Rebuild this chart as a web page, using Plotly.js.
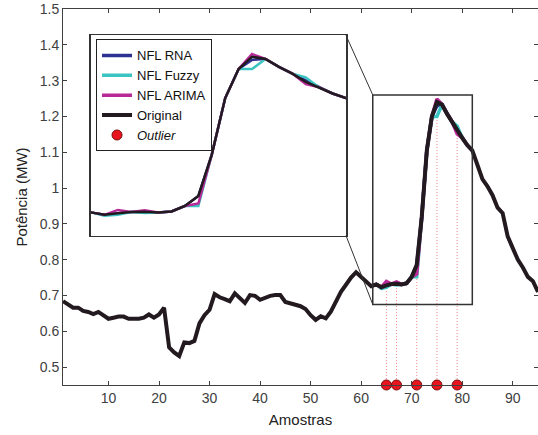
<!DOCTYPE html>
<html>
<head>
<meta charset="utf-8">
<script src="https://cdn.plot.ly/plotly-3.0.1.min.js"></script>
<style>html,body{margin:0;padding:0;background:#fff;}#chart{width:538px;height:435px;}</style>
</head>
<body>
<div id="chart"></div>
<script>
// ---- data ----
const samples = Array.from({length: 95}, (_, k) => k + 1);
const original = [
  0.684, 0.675, 0.666, 0.666, 0.657, 0.654, 0.648, 0.654, 0.645, 0.635,
  0.638, 0.641, 0.641, 0.635, 0.635, 0.635, 0.638, 0.647, 0.638, 0.647,
  0.666, 0.555, 0.541, 0.531, 0.569, 0.567, 0.573, 0.622, 0.645, 0.660,
  0.704, 0.695, 0.690, 0.684, 0.706, 0.692, 0.679, 0.701, 0.699, 0.688,
  0.695, 0.699, 0.701, 0.701, 0.682, 0.679, 0.674, 0.670, 0.662, 0.645,
  0.632, 0.642, 0.636, 0.655, 0.685, 0.710, 0.730, 0.750, 0.765, 0.752,
  0.738, 0.726, 0.731, 0.723, 0.728, 0.732, 0.733, 0.731, 0.734, 0.752,
  0.785, 0.920, 1.105, 1.200, 1.240, 1.233, 1.207, 1.185, 1.158, 1.140,
  1.120, 1.105, 1.065, 1.025, 1.005, 0.980, 0.945, 0.930, 0.865, 0.835,
  0.800, 0.778, 0.752, 0.740, 0.710
];
// model outputs over the zoomed window (samples 62..82)
const zoomSamples = [62,63,64,65,66,67,68,69,70,71,72,73,74,75,76,77,78,79,80,81,82];
const nflRNA   = [0.726,0.731,0.723,0.728,0.732,0.733,0.731,0.734,0.752,0.785,0.920,1.105,1.200,1.230,1.233,1.207,1.185,1.164,1.140,1.120,1.105];
const nflFuzzy = [0.726,0.731,0.720,0.723,0.732,0.729,0.731,0.734,0.752,0.752,0.920,1.105,1.200,1.200,1.233,1.207,1.185,1.173,1.140,1.120,1.105];
const nflARIMA = [0.726,0.731,0.723,0.739,0.732,0.738,0.731,0.734,0.752,0.760,0.920,1.105,1.200,1.249,1.233,1.207,1.185,1.151,1.140,1.120,1.105];
const outlierX   = [65, 67, 71, 75, 79];
const outlierTop = [0.722, 0.728, 0.770, 1.190, 1.155];
const outlierBase = 0.45;

// ---- styles ----
const C_RNA = '#2e3192', C_FUZ = '#3cc4c2', C_ARI = '#b82a98', C_ORG = '#231a20';
const AX = '#404040';
const FONT = 'Liberation Sans, Arial, Helvetica, sans-serif';
const xMain = [1, 95], yMain = [0.45, 1.5];
const xIn = [63, 82], yIn = [0.655, 1.31];
const zoomBox = {x0: 62.3, x1: 82, y0: 0.675, y1: 1.26};
const inDomX = [0.0589, 0.5958], inDomY = [0.3973, 0.9297];

// dotted guide segments built from outlier arrays
const gx = [], gy = [];
outlierX.forEach((x, k) => { gx.push(x, x, null); gy.push(outlierBase, outlierTop[k], null); });

const traces = [
  {x: gx, y: gy, mode: 'lines', line: {color: 'rgba(240,90,90,0.7)', width: 1, dash: '1px,2px'}, showlegend: false, hoverinfo: 'skip'},
  {x: zoomSamples, y: nflRNA, name: 'NFL RNA', mode: 'lines', line: {color: C_RNA, width: 3.5}},
  {x: zoomSamples, y: nflFuzzy, name: 'NFL Fuzzy', mode: 'lines', line: {color: C_FUZ, width: 3.5}},
  {x: zoomSamples, y: nflARIMA, name: 'NFL ARIMA', mode: 'lines', line: {color: C_ARI, width: 3.5}},
  {x: samples, y: original, name: 'Original', mode: 'lines', line: {color: C_ORG, width: 4}},
  {x: outlierX, y: outlierX.map(() => outlierBase), name: '<i>Outlier</i>', mode: 'markers',
   marker: {color: '#e8141e', size: 10, line: {color: '#7a0a0a', width: 1}}, cliponaxis: false},
  // inset
  {x: zoomSamples, y: nflRNA, xaxis: 'x2', yaxis: 'y2', mode: 'lines', line: {color: C_RNA, width: 2.5}, showlegend: false},
  {x: zoomSamples, y: nflFuzzy, xaxis: 'x2', yaxis: 'y2', mode: 'lines', line: {color: C_FUZ, width: 2.5}, showlegend: false},
  {x: zoomSamples, y: nflARIMA, xaxis: 'x2', yaxis: 'y2', mode: 'lines', line: {color: C_ARI, width: 2.5}, showlegend: false},
  {x: samples, y: original, xaxis: 'x2', yaxis: 'y2', mode: 'lines', line: {color: C_ORG, width: 2.5}, showlegend: false}
];

// data -> paper helpers for connector lines
const px = v => (v - xMain[0]) / (xMain[1] - xMain[0]);
const py = v => (v - yMain[0]) / (yMain[1] - yMain[0]);

const layout = {
  width: 538, height: 435,
  margin: {l: 63, r: 0, t: 9, b: 50, pad: 0},
  paper_bgcolor: '#fff', plot_bgcolor: '#fff',
  font: {family: FONT, color: AX, size: 14},
  showlegend: true,
  legend: {x: 0.0695, y: 0.919, xanchor: 'left', yanchor: 'top', bgcolor: '#fff',
           bordercolor: '#222', borderwidth: 1, font: {size: 13, color: '#111', family: FONT},
           tracegroupgap: 0},
  xaxis: {range: xMain, tick0: 0, dtick: 10, ticks: 'inside', ticklen: 4, tickcolor: AX,
          showline: true, linecolor: AX, linewidth: 1, mirror: 'ticks', showgrid: false, zeroline: false,
          tickfont: {size: 14, color: AX},
          title: {text: 'Amostras', font: {size: 15, color: '#222'}, standoff: 9}},
  yaxis: {range: yMain, tick0: 0.5, dtick: 0.1, ticks: 'inside', ticklen: 4, tickcolor: AX,
          showline: true, linecolor: AX, linewidth: 1, mirror: 'ticks', showgrid: false, zeroline: false,
          tickfont: {size: 14, color: AX},
          title: {text: 'Potência (MW)', font: {size: 15, color: '#222'}, standoff: 8}},
  xaxis2: {domain: inDomX, anchor: 'y2', range: xIn, showticklabels: false, ticks: '', showgrid: false,
           zeroline: false, showline: true, mirror: true, linecolor: '#333', linewidth: 1.5},
  yaxis2: {domain: inDomY, anchor: 'x2', range: yIn, showticklabels: false, ticks: '', showgrid: false,
           zeroline: false, showline: true, mirror: true, linecolor: '#333', linewidth: 1.5},
  shapes: [
    {type: 'rect', xref: 'x', yref: 'y', x0: zoomBox.x0, x1: zoomBox.x1, y0: zoomBox.y0, y1: zoomBox.y1,
     line: {color: '#333', width: 1.5}, layer: 'above'},
    {type: 'line', xref: 'paper', yref: 'paper', x0: inDomX[1], y0: inDomY[1], x1: px(zoomBox.x0), y1: py(zoomBox.y1),
     line: {color: '#333', width: 1}},
    {type: 'line', xref: 'paper', yref: 'paper', x0: inDomX[1], y0: inDomY[0], x1: px(zoomBox.x0), y1: py(zoomBox.y0),
     line: {color: '#333', width: 1}}
  ]
};

Plotly.newPlot('chart', traces, layout, {displayModeBar: false, staticPlot: true});
</script>
</body>
</html>
